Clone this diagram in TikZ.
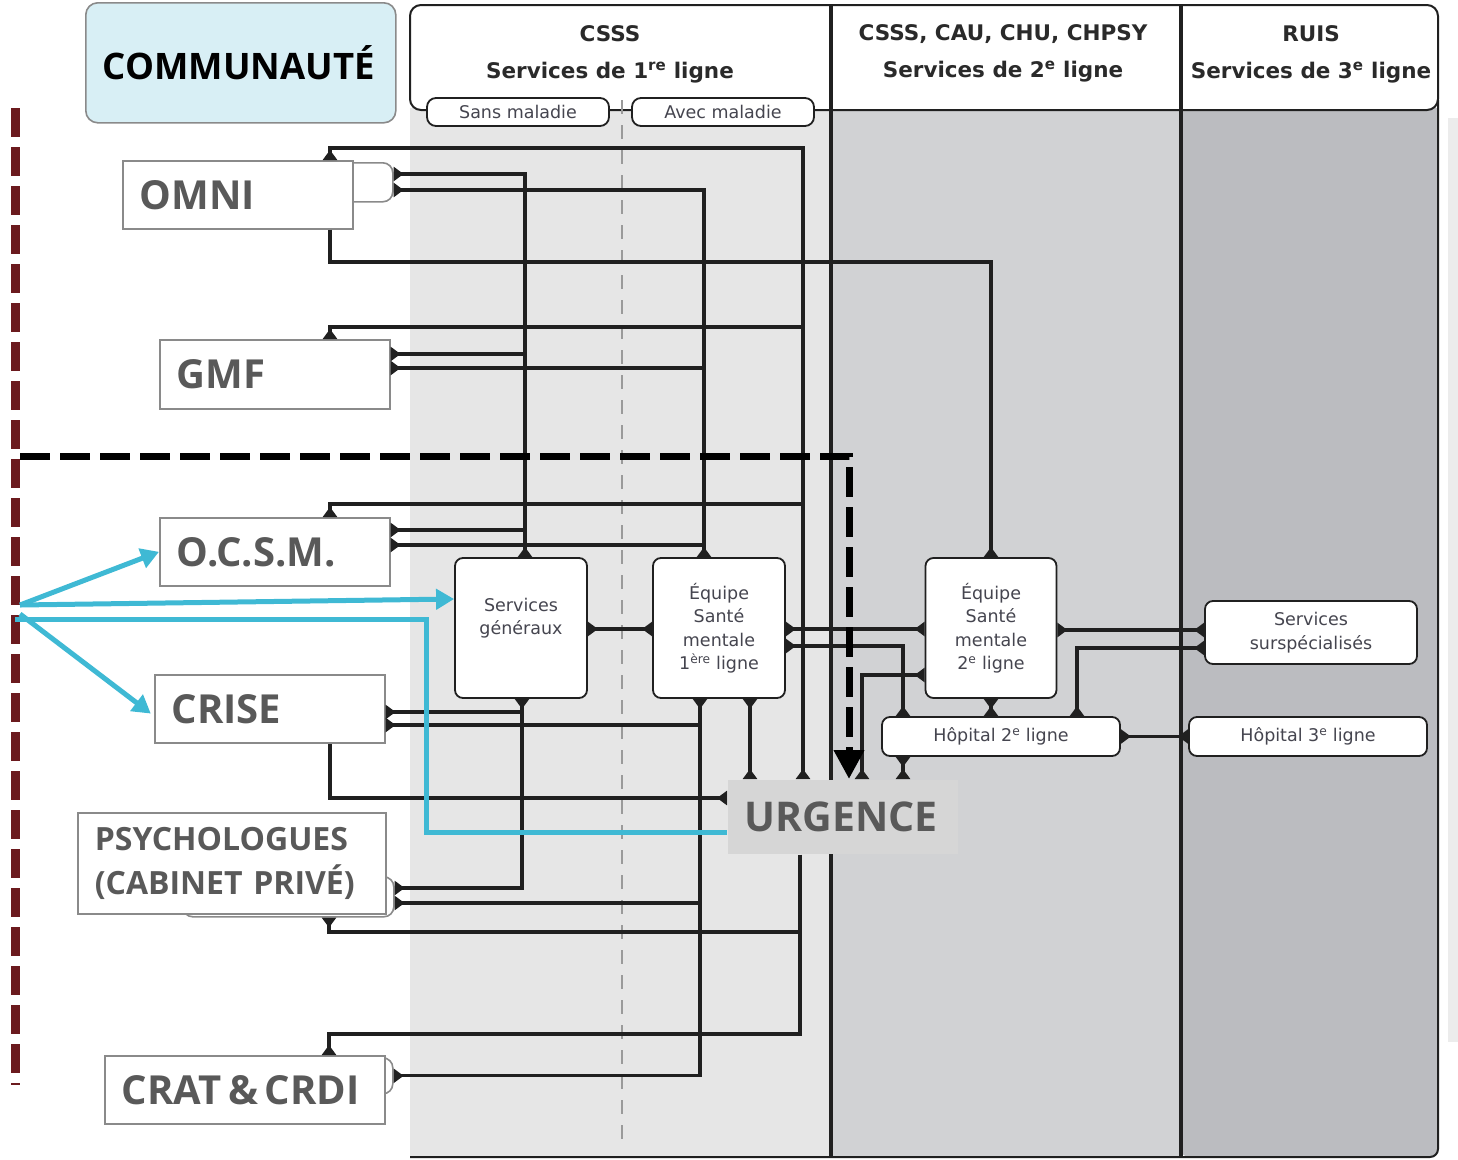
\documentclass[tikz,border=0pt]{standalone}
\usepackage{fontspec}
\usetikzlibrary{arrows.meta}
\newfontfamily\lbfont{Open Sans}
\newfontfamily\hdfont{DejaVu Sans}
\newfontfamily\smfont{DejaVu Sans}

\definecolor{colA}{HTML}{E6E6E6}
\definecolor{colB}{HTML}{D1D2D4}
\definecolor{colC}{HTML}{BBBCC0}
\definecolor{commfill}{HTML}{D8EFF5}
\definecolor{urgfill}{HTML}{D6D6D6}
\definecolor{labgray}{HTML}{595959}
\definecolor{boxgray}{HTML}{8A8A8A}
\definecolor{linedark}{HTML}{202020}
\definecolor{txtgray}{HTML}{45454F}
\definecolor{hdtext}{HTML}{2A2A2A}
\definecolor{dashgray}{HTML}{9A9A9A}
\definecolor{stripgray}{HTML}{ECECEC}
\definecolor{blu}{HTML}{3FB9D4}
\definecolor{redd}{HTML}{6B1A1E}

\begin{document}
\begin{tikzpicture}[x=1pt, y=-1pt, thick]
\tikzset{
  lbox/.style={draw=boxgray, line width=1.6pt, fill=white, anchor=north west, inner xsep=17pt, inner ysep=0pt, minimum height=68pt, align=left, text=labgray, text width=#1, font=\lbfont\bfseries\fontsize{40}{46}\selectfont},
  cbox/.style={draw=linedark, line width=1.8pt, fill=white, rounded corners=8pt, inner sep=0pt, align=center, text=txtgray, font=\smfont\fontsize{17.5}{23.5}\selectfont},
  bump/.style={draw=boxgray, line width=1.6pt, fill=white, rounded corners=10pt, anchor=north west, inner sep=0pt},
  hd/.style={align=center, text=hdtext, font=\hdfont\bfseries\fontsize{21.5}{37}\selectfont},
  frame/.style={draw=linedark, line width=2pt},
  cn/.style={draw=linedark, line width=3.2pt},
  tri/.tip={Triangle[reversed, width=14pt, length=10pt]},
  bluline/.style={draw=blu, line width=5pt},
  bluarrow/.style={bluline, -{Triangle[width=20pt, length=18pt]}},
}
\useasboundingbox (0,0) rectangle (1458,1159);

% columns
\fill[colA] (410,108) rectangle (831,1157);
\fill[colB] (831,108) rectangle (1181,1157);
\fill[colC] (1181,108) -- (1438,108) {[rounded corners=8pt] -- (1438,1157) -- (1181,1157)} -- cycle;
\fill[stripgray] (1448,118) rectangle (1458,1042);
\draw[frame, rounded corners=8pt] (1438,100) -- (1438,1157) -- (410,1157);
\draw[frame, fill=white, rounded corners=11pt] (410,5) rectangle (1438,110);
\draw[draw=dashgray, line width=2.5pt, dash pattern=on 14pt off 11pt] (622,100) -- (622,1145);
\draw[draw=linedark, line width=3.2pt] (831,5) -- (831,1157);
\draw[draw=linedark, line width=3.2pt] (1181,5) -- (1181,1157);

% header
\node[hd] (hd1) at (610,54) {CSSS\\Services de 1\textsuperscript{re} ligne};
\node[hd] (hd2) at (1003,53) {CSSS, CAU, CHU, CHPSY\\Services de 2\textsuperscript{e} ligne};
\node[hd] (hd3) at (1311,54) {RUIS\\Services de 3\textsuperscript{e} ligne};
\node[cbox, minimum width=182pt, minimum height=28pt, rounded corners=9pt] (sans) at (518,112) {Sans maladie};
\node[cbox, minimum width=182pt, minimum height=28pt, rounded corners=9pt] (avec) at (723,112) {Avec maladie};

% community side
\node[bump, minimum width=92pt, minimum height=39pt] (omnitab) at (300,162) {};
\node[bump, minimum width=211pt, minimum height=40pt] (psytab) at (182,876) {};
\node[bump, minimum width=92pt, minimum height=36pt] (crattab) at (300,1057) {};

\node[lbox=276pt, fill=commfill, rounded corners=12pt, minimum height=120pt, text=black, font=\lbfont\bfseries\fontsize{36.5}{44}\selectfont] (comm) at (85,2) {COMMUNAUTÉ};
\node[lbox=196pt] (omni) at (122,160) {OMNI};
\node[lbox=196pt, minimum height=69pt] (gmf) at (159,339) {GMF};
\node[lbox=196pt] (ocsm) at (159,517) {O.C.S.M.};
\node[lbox=196pt] (crise) at (154,674) {CRISE};
\node[lbox=274pt, minimum height=101pt, font=\lbfont\bfseries\fontsize{32}{44}\selectfont] (psy) at (77,812) {PSYCHOLOGUES\\(CABINET PRIVÉ)};
\node[lbox=246pt] (crat) at (104,1055) {CRAT\,\&\,CRDI};

% services
\node[cbox, minimum width=132pt, minimum height=140pt] (sg) at (521,628) {Services\\généraux\\~};
\node[cbox, minimum width=132pt, minimum height=140pt] (esm1) at (719,628) {Équipe\\Santé\\mentale\\1\textsuperscript{ère} ligne};
\node[cbox, minimum width=131pt, minimum height=140pt] (esm2) at (991,628) {Équipe\\Santé\\mentale\\2\textsuperscript{e} ligne};
\node[cbox, minimum width=212pt, minimum height=63pt] (ss) at (1311,632.5) {Services\\surspécialisés};
\node[cbox, minimum width=238pt, minimum height=39pt] (h2) at (1001,736.5) {Hôpital 2\textsuperscript{e} ligne};
\node[cbox, minimum width=238pt, minimum height=39pt] (h3) at (1308,736.5) {Hôpital 3\textsuperscript{e} ligne};
\node[lbox=196pt, draw=none, fill=urgfill, minimum height=74pt, font=\lbfont\bfseries\fontsize{41}{46}\selectfont] (urg) at (727,779) {URGENCE};

% OMNI
\draw[cn, tri-tri] (omni.north -| 330,0) |- (803,148) -- (urg.north -| 803,0);
\draw[cn, tri-tri] (omnitab.east |- 0,174) -| (sg.north -| 525,0);
\draw[cn, tri-tri] (omnitab.east |- 0,190) -| (esm1.north -| 704,0);
\draw[cn, -tri] (omni.south -| 330,0) |- (991,262) -- (esm2.north);

% GMF, O.C.S.M.
\draw[cn, tri-] (gmf.north -| 330,0) |- (803,327);
\draw[cn, tri-] (gmf.east |- 0,354) -- (525,354);
\draw[cn, tri-] (gmf.east |- 0,368) -- (704,368);
\draw[cn, tri-] (ocsm.north -| 330,0) |- (803,504);
\draw[cn, tri-] (ocsm.east |- 0,530) -- (525,530);
\draw[cn, tri-] (ocsm.east |- 0,545) -- (704,545);

% between services
\draw[cn, tri-tri] (sg.east |- 0,629) -- (esm1.west |- 0,629);
\draw[cn, tri-tri] (esm1.east |- 0,629) -- (esm2.west |- 0,629);
\draw[cn, tri-tri] (esm2.east |- 0,630) -- (ss.west |- 0,630);
\draw[cn, tri-tri] (esm1.east |- 0,646) -| (h2.north -| 903,0);
\draw[cn, tri-tri] (esm2.west |- 0,675) -| (urg.north -| 862,0);
\draw[cn, tri-tri] (esm2.south) -- (esm2.south |- h2.north);
\draw[cn, tri-tri] (ss.west |- 0,648) -| (h2.north -| 1077,0);
\draw[cn, tri-tri] (h2.east) -- (h3.west);
\draw[cn, tri-tri] (h2.south -| 903,0) -- (urg.north -| 903,0);

% CRISE, psychologues, CRAT
\draw[cn, tri-tri] (sg.south -| 522,0) |- (psytab.east |- 0,888);
\draw[cn, tri-] (crise.east |- 0,712) -- (522,712);
\draw[cn, tri-tri] (esm1.south -| 700,0) |- (crattab.east);
\draw[cn, tri-] (crise.east |- 0,725) -- (700,725);
\draw[cn, tri-] (psytab.east |- 0,903) -- (700,903);
\draw[cn, tri-tri] (esm1.south -| 750,0) -- (urg.north -| 750,0);
\draw[cn, tri-] (urg.west |- 0,798) -| (crise.south -| 330,0);
\draw[cn, -tri] (urg.south -| 800,0) |- (329,1034) -- (crat.north -| 329,0);
\draw[cn, tri-] (psytab.south -| 329,0) |- (800,932);

% limits
\coordinate (lim) at (20,456);
\draw[draw=black, line width=7pt, dash pattern=on 30pt off 10pt, -{Triangle[width=29pt, length=29pt]}] (lim) -| (urg.north -| 849,0);
\draw[draw=redd, line width=9pt, dash pattern=on 29pt off 10pt] (15,108) -- (15,1085);

% access
\coordinate (src) at (20,605);
\coordinate (src1) at (20,614);
\coordinate (src2) at (15,619);
\draw[bluarrow] (src) -- (ocsm.west);
\draw[bluarrow] (src) -- (sg.west |- 0,599);
\draw[bluarrow, shorten >=4pt] (src1) -- (crise.west |- 0,716);
\draw[bluline] (src2) -| (426,832) -- (urg.west |- 0,832);

\end{tikzpicture}
\end{document}
